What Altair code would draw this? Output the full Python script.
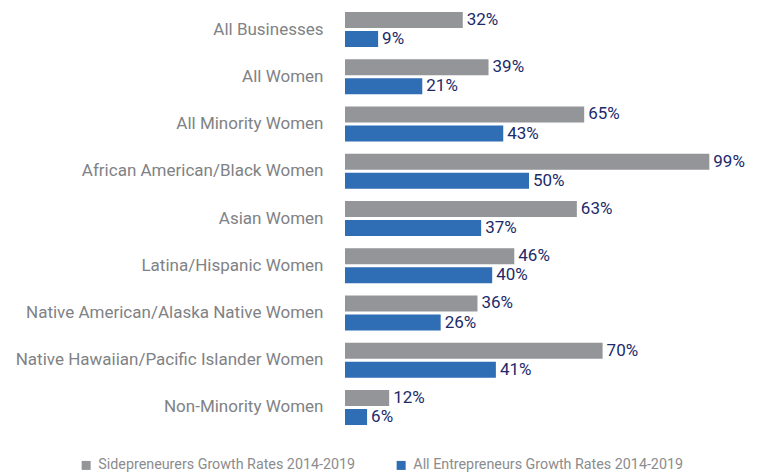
import altair as alt
import pandas as pd

categories = [
    "All Businesses",
    "All Women",
    "All Minority Women",
    "African American/Black Women",
    "Asian Women",
    "Latina/Hispanic Women",
    "Native American/Alaska Native Women",
    "Native Hawaiian/Pacific Islander Women",
    "Non-Minority Women",
]
series = ["Sidepreneurers Growth Rates 2014-2019", "All Entrepreneurs Growth Rates 2014-2019"]
side_values = [32, 39, 65, 99, 63, 46, 36, 70, 12]
all_values = [9, 21, 43, 50, 37, 40, 26, 41, 6]

rows = []
for c, a, b in zip(categories, side_values, all_values):
    rows.append({"cat": c, "series": series[0], "v": a, "lab": f"{a}%"})
    rows.append({"cat": c, "series": series[1], "v": b, "lab": f"{b}%"})
df = pd.DataFrame(rows)

FONT = "Roboto"

y = alt.Y("cat:N", sort=categories, title=None,
          scale=alt.Scale(paddingInner=0.259, paddingOuter=0),
          axis=alt.Axis(ticks=False, domain=False, labelPadding=22, labelFontSize=17,
                        labelColor="#808285", labelFont=FONT, labelLimit=400))
yoff = alt.YOffset("series:N", sort=series,
                   scale=alt.Scale(paddingInner=0.158, paddingOuter=0))
x = alt.X("v:Q", scale=alt.Scale(domain=[0, 100]), axis=None)

bars = alt.Chart(df).mark_bar().encode(
    y=y, yOffset=yoff, x=x,
    color=alt.Color("series:N", sort=series,
                    scale=alt.Scale(domain=series, range=["#939598", "#2f6db5"]),
                    legend=alt.Legend(title=None, orient="none", legendX=-266, legendY=446,
                                      direction="horizontal", columns=2, columnPadding=38,
                                      symbolType="square", symbolSize=81, symbolStrokeWidth=0,
                                      labelFontSize=14.3, labelColor="#8a8c8e", labelFont=FONT,
                                      labelLimit=400, padding=0, labelOffset=5)),
)

labels = alt.Chart(df).mark_text(align="left", baseline="middle", dx=4, fontSize=17,
                                 color="#1c2a6b", font=FONT).encode(
    y=alt.Y("cat:N", sort=categories), yOffset=alt.YOffset("series:N", sort=series), x="v:Q",
    text="lab:N",
)

chart = (bars + labels).properties(
    width=368, height=413,
    autosize=alt.AutoSizeParams(type="none"),
    padding={"left": 337, "top": 4, "right": 44, "bottom": 50},
).configure_view(stroke=None)

chart.save("out.html", embed_options={"renderer": "svg", "actions": False})
